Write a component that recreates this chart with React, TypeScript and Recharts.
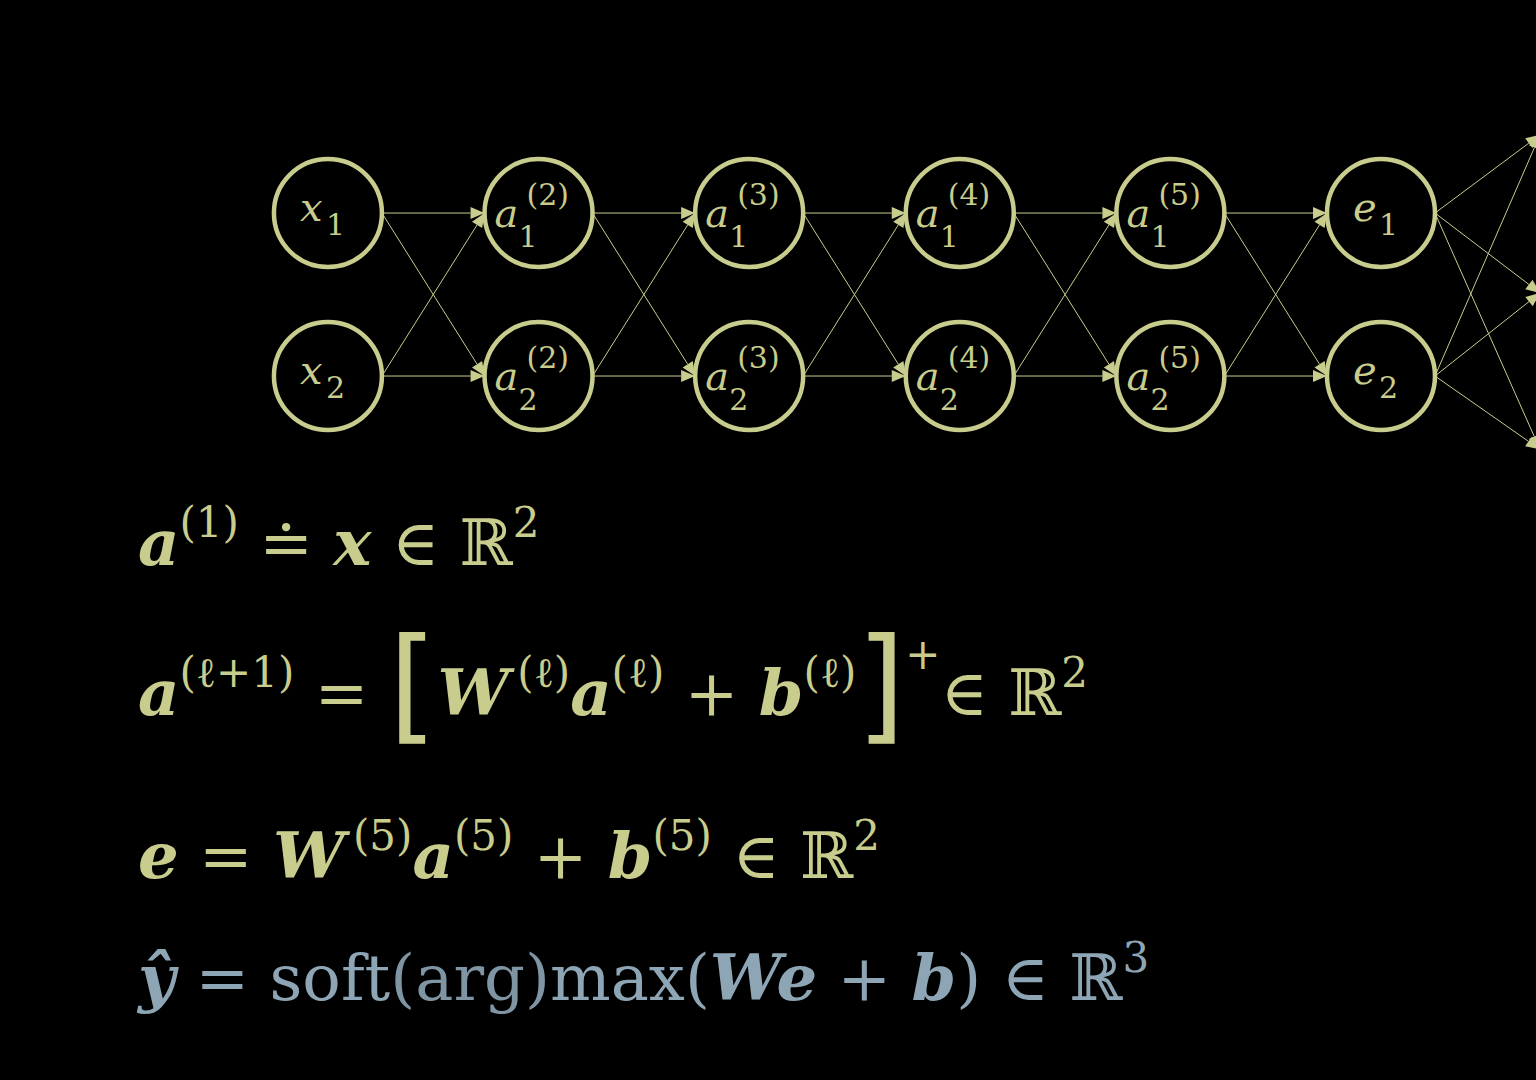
import React from "react";
import { ScatterChart, Scatter, XAxis, YAxis, Customized } from "recharts";

const W = 1536;
const H = 1080;
const YEL = "#c8cc8c";
const BLUE = "#8ea5b5";

// layers 0..5 (x, a2..a5, e), rows 0..1; output layer at 5.736 (cut by the frame)
const LAYER_LABELS = ["x", "a", "a", "a", "a", "e"];
const LAYER_SUPS = ["", "(2)", "(3)", "(4)", "(5)", ""];
const ROWS = [0, 1];
const OUT_LAYER = 5.736;
const OUT_ROWS = [-0.48, 0.49, 1.45];

// axis domains chosen so a layer step is ~210px and a row step ~163px
const X_DOMAIN: [number, number] = [-1.557, 5.736];
const Y_DOMAIN: [number, number] = [-1.307, 5.319];
const PX_X = W / (X_DOMAIN[1] - X_DOMAIN[0]);
const PX_Y = H / (Y_DOMAIN[1] - Y_DOMAIN[0]);
const R = 54;
const FAM = "'DejaVu Serif', 'Liberation Serif', serif";

const nodes = LAYER_LABELS.flatMap((l, i) =>
  ROWS.map((r) => ({ x: i, y: r, label: l, sub: String(r + 1), sup: LAYER_SUPS[i] }))
);

const edges = [
  ...LAYER_LABELS.slice(0, 5).flatMap((_, i) =>
    ROWS.flatMap((r) => ROWS.map((t) => ({ x: i, y: r, tx: i + 1, ty: t, out: false })))
  ),
  ...ROWS.flatMap((r) => OUT_ROWS.map((t) => ({ x: 5, y: r, tx: OUT_LAYER, ty: t, out: true }))),
];

const NodeShape = (p: any) => {
  const { cx, cy, payload } = p;
  return (
    <g fill={YEL} fontFamily={FAM}>
      <circle cx={cx} cy={cy} r={R} fill="none" stroke={YEL} strokeWidth={4.5} />
      {payload.sup ? (
        <>
          <text x={cx - 44} y={cy + 14} fontSize={40} fontStyle="italic">{payload.label}</text>
          <text x={cx - 20} y={cy + 34} fontSize={30}>{payload.sub}</text>
          <text x={cx - 12} y={cy - 8} fontSize={30}>{payload.sup}</text>
        </>
      ) : (
        <>
          <text x={cx - 28} y={cy + 8} fontSize={40} fontStyle="italic">{payload.label}</text>
          <text x={cx - 2} y={cy + 22} fontSize={30}>{payload.sub}</text>
        </>
      )}
    </g>
  );
};

const EdgeShape = (p: any) => {
  const { cx, cy, payload } = p;
  const x1 = cx + R;
  const y1 = cy;
  const x2 = cx + (payload.tx - payload.x) * PX_X - (payload.out ? -4 : R);
  const y2 = cy + (payload.ty - payload.y) * PX_Y;
  const a = Math.atan2(y2 - y1, x2 - x1);
  const L = 14;
  const w = 6;
  const bx = x2 - L * Math.cos(a);
  const by = y2 - L * Math.sin(a);
  const pts = `${x2},${y2} ${bx - w * Math.sin(a)},${by + w * Math.cos(a)} ${bx + w * Math.sin(a)},${by - w * Math.cos(a)}`;
  return (
    <g>
      <line x1={x1} y1={y1} x2={bx} y2={by} stroke={YEL} strokeWidth={1} />
      <polygon points={pts} fill={YEL} />
    </g>
  );
};

type Seg = { t: string; b?: boolean; sup?: string; c?: string; big?: boolean; supDx?: number };

const EQ1: Seg[] = [{ t: "a", b: true, sup: "(1)" }, { t: " ≐ " }, { t: "x", b: true }, { t: " ∈ ℝ", sup: "2" }];
const EQ2: Seg[] = [
  { t: "a", b: true, sup: "(ℓ+1)" }, { t: " = " }, { t: "[", big: true },
  { t: "W", b: true, sup: "(ℓ)", supDx: 8 }, { t: "a", b: true, sup: "(ℓ)" }, { t: " + " },
  { t: "b", b: true, sup: "(ℓ)" }, { t: "]", big: true, sup: "+" }, { t: "∈ ℝ", sup: "2" },
];
const EQ3: Seg[] = [
  { t: "e", b: true }, { t: " = " }, { t: "W", b: true, sup: "(5)", supDx: 8 }, { t: "a", b: true, sup: "(5)" },
  { t: " + " }, { t: "b", b: true, sup: "(5)" }, { t: " ∈ ℝ", sup: "2" },
];
const EQ4: Seg[] = [
  { t: "ŷ", b: true }, { t: " = soft" }, { t: "(arg)", c: "#7f95a4" }, { t: "max(" },
  { t: "We", b: true }, { t: " + " }, { t: "b", b: true }, { t: ") ∈ ℝ", sup: "3" },
];

const Equation = ({ segs, x, y, color }: { segs: Seg[]; x: number; y: number; color: string }) => {
  let cur = 0;
  const shift = (target: number) => {
    const d = target - cur;
    cur = target;
    return d;
  };
  return (
    <text x={x} y={y} fill={color} fontSize={64} fontFamily={FAM}>
      {segs.map((s, i) => (
        <React.Fragment key={i}>
          <tspan
            fontWeight={s.b ? "bold" : "normal"}
            fontStyle={s.b ? "italic" : "normal"}
            fontSize={s.big ? 125 : 64}
            fill={s.c ?? color}
            fontFamily={s.big ? "'DejaVu Sans', sans-serif" : undefined}
            dy={shift(s.big ? 12 : 0)}
          >
            {s.t}
          </tspan>
          {s.sup ? (
            <tspan fontSize={42} dx={s.supDx ?? 0} dy={shift(s.big ? -46 : -28)}>
              {s.sup}
            </tspan>
          ) : null}
        </React.Fragment>
      ))}
    </text>
  );
};

const Equations = () => (
  <g>
    <Equation segs={EQ1} x={138} y={565} color={YEL} />
    <Equation segs={EQ2} x={138} y={715} color={YEL} />
    <Equation segs={EQ3} x={138} y={878} color={YEL} />
    <Equation segs={EQ4} x={138} y={1000} color={BLUE} />
  </g>
);

export default function App() {
  return (
    <div style={{ position: "fixed", left: 0, top: 0, width: W, height: H, background: "#000" }}>
      <ScatterChart width={W} height={H} margin={{ top: 0, right: 0, bottom: 0, left: 0 }}>
        <XAxis type="number" dataKey="x" domain={X_DOMAIN} hide allowDataOverflow />
        <YAxis type="number" dataKey="y" domain={Y_DOMAIN} reversed hide allowDataOverflow />
        <Scatter data={edges} shape={EdgeShape} isAnimationActive={false} />
        <Scatter data={nodes} shape={NodeShape} isAnimationActive={false} />
        <Customized component={Equations} />
      </ScatterChart>
    </div>
  );
}
